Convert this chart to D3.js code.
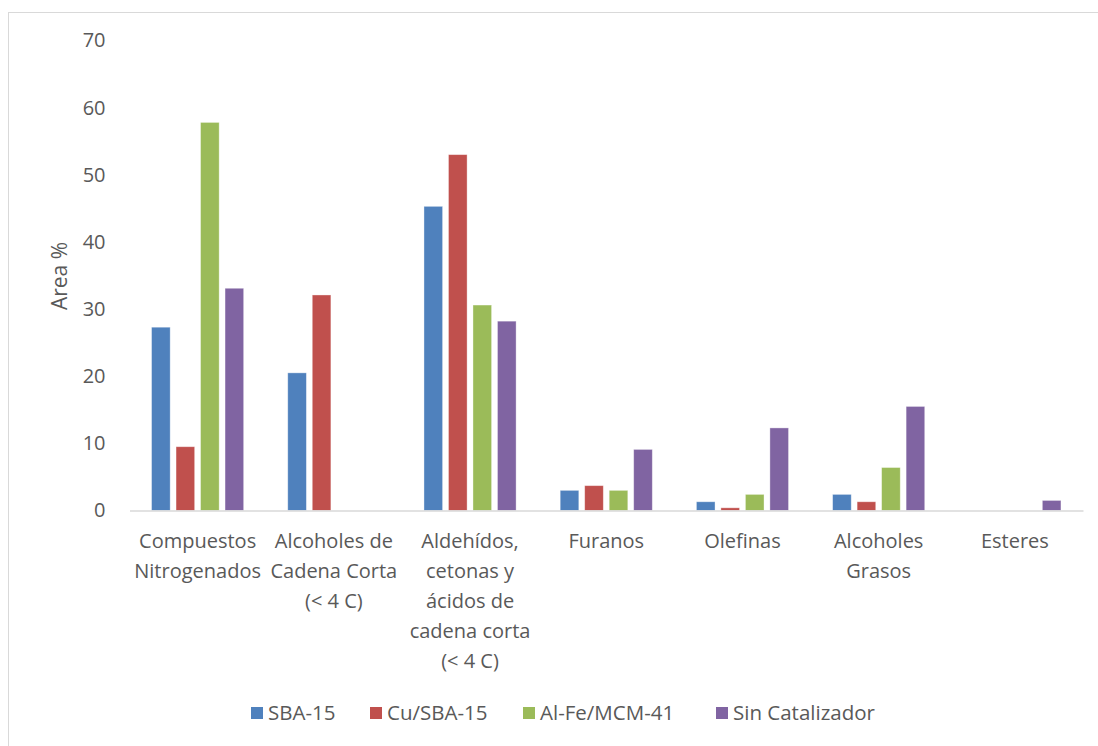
<!DOCTYPE html>
<html>
<head>
<meta charset="utf-8">
<script src="https://cdn.jsdelivr.net/npm/d3@7"></script>
<style>
  html, body { margin: 0; padding: 0; background: #fff; }
  svg text { font-family: "Open Sans", "Noto Sans", sans-serif; fill: #595959; }
</style>
</head>
<body>
<svg id="chart" width="1098" height="746"></svg>
<script>
// Product families (x axis), each with its wrapped label lines
const categories = [
  "Compuestos Nitrogenados",
  "Alcoholes de Cadena Corta (< 4 C)",
  "Aldehídos, cetonas y ácidos de cadena corta (< 4 C)",
  "Furanos",
  "Olefinas",
  "Alcoholes Grasos",
  "Esteres"
];
const categoryLines = [
  ["Compuestos", "Nitrogenados"],
  ["Alcoholes de", "Cadena Corta", "(< 4 C)"],
  ["Aldehídos,", "cetonas y", "ácidos de", "cadena corta", "(< 4 C)"],
  ["Furanos"],
  ["Olefinas"],
  ["Alcoholes", "Grasos"],
  ["Esteres"]
];

// Catalysts (series)
const seriesNames = ["SBA-15", "Cu/SBA-15", "Al-Fe/MCM-41", "Sin Catalizador"];
const seriesColors = ["#4F81BD", "#C0504D", "#9BBB59", "#8064A2"];

// Area % per catalyst, one value per product family
const sba15        = [27.3, 20.5, 45.3, 3.0, 1.3, 2.4, 0];
const cuSba15      = [9.5, 32.1, 53.0, 3.7, 0.4, 1.3, 0];
const alFeMcm41    = [57.8, 0, 30.6, 3.0, 2.4, 6.4, 0];
const sinCatalizador = [33.1, 0, 28.2, 9.1, 12.3, 15.5, 1.5];
const seriesValues = [sba15, cuSba15, alFeMcm41, sinCatalizador];

// Value axis ticks
const yTicks = [0, 10, 20, 30, 40, 50, 60, 70];

const svg = d3.select("#chart");

// Outer chart-area frame
svg.append("rect")
  .attr("x", 8.5).attr("y", 12.5)
  .attr("width", 1100).attr("height", 760)
  .attr("fill", "none").attr("stroke", "#D9D9D9").attr("stroke-width", 1);

const plot = { left: 129.5, right: 1083, top: 40.5, bottom: 510.5 };

const x = d3.scaleBand().domain(categories).range([plot.left, plot.right]).padding(0);
const xInner = d3.scaleBand().domain(seriesNames).range([0, x.bandwidth()])
  .paddingInner(0.24).paddingOuter(0.9);
const y = d3.scaleLinear().domain([0, 70]).range([plot.bottom, plot.top]);

// Y tick labels (no gridlines, no axis line)
const yAxis = d3.axisLeft(y).tickValues(yTicks).tickSize(0).tickPadding(24);
const gy = svg.append("g").attr("transform", `translate(${plot.left},0)`).call(yAxis);
gy.select(".domain").remove();
gy.selectAll("text").style("font-size", "20px").attr("fill", "#595959")
  .style("font-family", "\"Open Sans\", sans-serif");

// Bars
const groups = svg.append("g").selectAll("g")
  .data(categories)
  .join("g")
  .attr("transform", d => `translate(${x(d)},0)`);

groups.selectAll("rect")
  .data((c, ci) => seriesNames.map((s, si) => ({ s, si, v: seriesValues[si][ci] })))
  .join("rect")
  .filter(d => d.v > 0)
  .attr("x", d => xInner(d.s))
  .attr("width", xInner.bandwidth())
  .attr("y", d => y(d.v))
  .attr("height", d => y(0) - y(d.v))
  .attr("fill", d => seriesColors[d.si])
  .attr("stroke", "#ffffff").attr("stroke-opacity", 0.45).attr("stroke-width", 0.8);

// Category axis line
const xAxis = d3.axisBottom(x).tickSize(0).tickFormat("");
const gx = svg.append("g").attr("transform", `translate(0,${plot.bottom})`).call(xAxis);
gx.select(".domain").attr("stroke", "#D9D9D9").attr("stroke-width", 1.5);

// Wrapped category labels
const labels = svg.append("g").selectAll("text")
  .data(categories)
  .join("text")
  .attr("text-anchor", "middle")
  .style("font-size", "20px")
  .attr("transform", d => `translate(${x(d) + x.bandwidth() / 2},548)`);
labels.selectAll("tspan")
  .data((d, i) => categoryLines[i])
  .join("tspan")
  .attr("x", 0)
  .attr("y", (d, i) => i * 30)
  .text(d => d);

// Axis title
svg.append("text")
  .attr("transform", "translate(67,276) rotate(-90)")
  .attr("text-anchor", "middle")
  .style("font-size", "21px")
  .text("Area %");

// Legend
const legendX = [251, 370, 523, 716];
const legend = svg.append("g").selectAll("g")
  .data(seriesNames)
  .join("g")
  .attr("transform", (d, i) => `translate(${legendX[i]},713)`);
legend.append("rect")
  .attr("x", 0).attr("y", -6).attr("width", 12).attr("height", 12)
  .attr("fill", (d, i) => seriesColors[i]);
legend.append("text")
  .attr("x", 17).attr("y", 0).attr("dy", "0.35em")
  .style("font-size", "20.5px")
  .text(d => d);
</script>
</body>
</html>
